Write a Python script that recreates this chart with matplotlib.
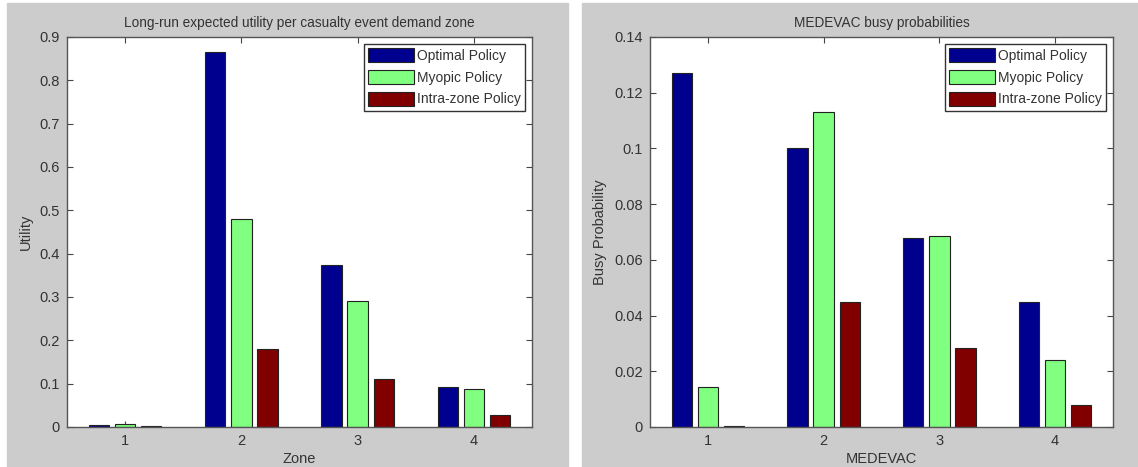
import numpy as np
import matplotlib.pyplot as plt
from matplotlib.patches import Rectangle

plt.rcParams['font.family'] = ['Liberation Sans', 'DejaVu Sans']

groups = [1, 2, 3, 4]
policies = ['Optimal Policy', 'Myopic Policy', 'Intra-zone Policy']
colors = ['#00008f', '#80ff80', '#800000']

# expected utility per demand zone
utility_optimal = [0.005, 0.865, 0.373, 0.092]
utility_myopic = [0.006, 0.481, 0.291, 0.088]
utility_intra = [0.003, 0.179, 0.110, 0.028]

# busy probability per MEDEVAC
busy_optimal = [0.127, 0.100, 0.068, 0.045]
busy_myopic = [0.0143, 0.113, 0.0687, 0.0242]
busy_intra = [0.0005, 0.045, 0.0284, 0.0078]

fig = plt.figure(figsize=(11.38, 4.67), dpi=100)
fig.patch.set_facecolor('white')
# grey panel backgrounds
fig.patches.append(Rectangle((7 / 1138, 0), (568 - 7) / 1138, 1 - 3 / 467,
                             transform=fig.transFigure, color='#cccccc', zorder=-10))
fig.patches.append(Rectangle((582 / 1138, 0), (1138 - 582) / 1138, 1 - 3 / 467,
                             transform=fig.transFigure, color='#cccccc', zorder=-10))


def grouped_bars(ax, series, ymax, yticks, title, xlabel, ylabel):
    x = np.array(groups, dtype=float)
    w = 0.175
    step = 0.225
    for i, (vals, c, name) in enumerate(zip(series, colors, policies)):
        ax.bar(x + (i - 1) * step, vals, width=w, color=c, edgecolor='#222222',
               linewidth=0.8, label=name, zorder=2)
    ax.set_xlim(0.5, 4.5)
    ax.set_ylim(0, ymax)
    ax.set_xticks(groups)
    ax.set_yticks(yticks)
    ax.set_yticklabels(['0' if v == 0 else f'{v:g}' for v in yticks])
    ax.tick_params(direction='in', top=True, right=True, length=4, width=0.8,
                   labelsize=10.5, colors='#444444', labelcolor='#333333', pad=5)
    for s in ax.spines.values():
        s.set_color('#555555')
        s.set_linewidth(1.0)
    ax.set_title(title, fontsize=9.8, color='#333333', pad=7)
    ax.set_xlabel(xlabel, fontsize=10.5, color='#333333', labelpad=3)
    ax.set_ylabel(ylabel, fontsize=10.5, color='#333333', labelpad=5)
    leg = ax.legend(loc='upper right', fontsize=10, fancybox=False, framealpha=1,
                    edgecolor='#333333', handlelength=3.3, handleheight=1.2,
                    handletextpad=0.2, borderpad=0.3, labelspacing=0.5,
                    borderaxespad=0.5)
    leg.get_frame().set_linewidth(1.0)
    for t in leg.get_texts():
        t.set_color('#333333')


ax1 = fig.add_axes([67 / 1138, 1 - 427 / 467, (532 - 67) / 1138, (427 - 37) / 467])
grouped_bars(ax1, [utility_optimal, utility_myopic, utility_intra], 0.9,
             np.round(np.arange(0, 0.91, 0.1), 1),
             'Long-run expected utility per casualty event demand zone',
             'Zone', 'Utility')

ax2 = fig.add_axes([650 / 1138, 1 - 427 / 467, (1113 - 650) / 1138, (427 - 37) / 467])
grouped_bars(ax2, [busy_optimal, busy_myopic, busy_intra], 0.14,
             np.round(np.arange(0, 0.141, 0.02), 2),
             'MEDEVAC busy probabilities',
             'MEDEVAC', 'Busy Probability')

fig.savefig('out.png', dpi=100)
